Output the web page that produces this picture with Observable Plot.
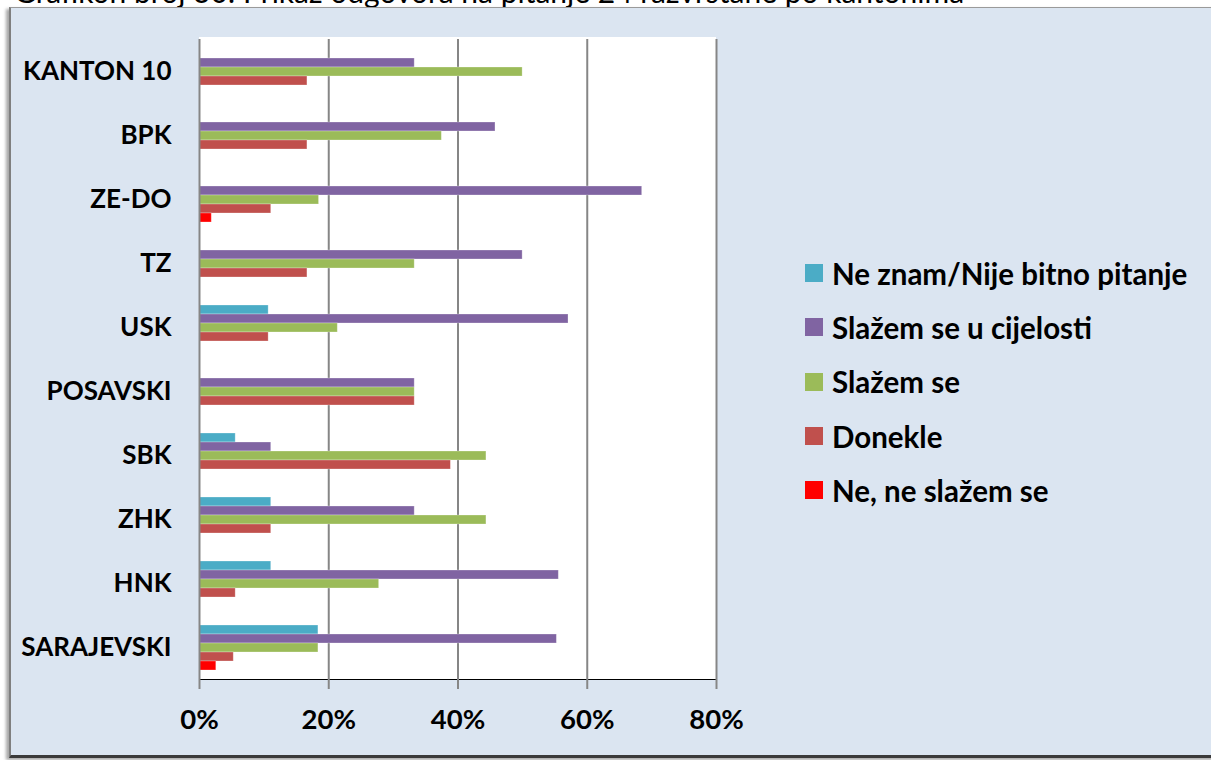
<!DOCTYPE html>
<html><head><meta charset="utf-8">
<script src="https://cdn.jsdelivr.net/npm/d3@7"></script>
<script src="https://cdn.jsdelivr.net/npm/@observablehq/plot@0.6"></script>
<style>
html,body{margin:0;padding:0;background:#fff;width:1211px;height:760px;overflow:hidden;font-family:Lato,"Open Sans",sans-serif;}
#title{position:absolute;left:14px;top:-24px;font-size:30px;line-height:30px;white-space:nowrap;color:#000;}
#box{position:absolute;left:9px;top:7px;width:1220px;height:747px;background:#DBE5F1;border-top:1px solid #9a9a9a;border-left:2px solid #7f7f7f;border-bottom:3px solid #3a3a3a;box-shadow:-3px 2px 3px rgba(0,0,0,0.35);}
#plotbg{position:absolute;left:199px;top:37px;width:517px;height:643px;background:#fff;}
#chart{position:absolute;left:0;top:0;}
#chart svg{overflow:visible;display:block;}
#chart [aria-label^="fy-axis"] text{font-size:26px;font-weight:bold;fill:#000;}
#chart [aria-label^="x-axis"] text{font-size:27.5px;font-weight:bold;fill:#000;}
#chart [aria-label^="x-axis"] line,#chart [aria-label^="x-axis"] path{stroke:#868686;stroke-width:2px;stroke-opacity:1;}
#legend{position:absolute;left:805px;top:246px;}
.row{display:flex;align-items:center;height:54.3px;font-size:29.5px;font-weight:bold;color:#000;white-space:nowrap;}
.sw{width:18px;height:18px;margin-right:9px;flex:none;}
</style>
</head><body>
<div id="title">Grafikon broj 30: Prikaz odgovora na pitanje 24 razvrstane po kantonima</div>
<div id="box"></div>
<div id="plotbg"></div>
<div id="chart"></div>
<div id="legend"></div>
<script>
// Categories (top to bottom)
const regions = ["KANTON 10","BPK","ZE-DO","TZ","USK","POSAVSKI","SBK","ZHK","HNK","SARAJEVSKI"];
// Series (top to bottom inside each group, and legend order)
const seriesNames = ["Ne znam/Nije bitno pitanje","Slažem se u cijelosti","Slažem se","Donekle","Ne, ne slažem se"];
const seriesColors = ["#4BACC6","#8064A2","#9BBB59","#C0504D","#FF0000"];
// Values in percent, per region
const neZnam     = [0,    0,    0,    0,    10.7, 0,    5.6,  11.1, 11.1, 18.4];
const uCijelosti = [33.3, 45.8, 68.5, 50.0, 57.1, 33.3, 11.1, 33.3, 55.6, 55.3];
const slazemSe   = [50.0, 37.5, 18.5, 33.3, 21.4, 33.3, 44.4, 44.4, 27.8, 18.4];
const donekle    = [16.7, 16.7, 11.1, 16.7, 10.7, 33.3, 38.9, 11.1, 5.6,  5.3];
const neSlazem   = [0,    0,    1.9,  0,    0,    0,    0,    0,    0,    2.6];
const xTicks = [0, 20, 40, 60, 80];

const seriesValues = [neZnam, uCijelosti, slazemSe, donekle, neSlazem];
const table = [];
regions.forEach((r, i) => {
  seriesNames.forEach((s, j) => {
    const v = seriesValues[j][i];
    if (v > 0) table.push({region: r, series: s, value: v});
  });
});

const H = 760, mTop = 37, mBottom = 80;
const facetH = (H - mTop - mBottom) / regions.length;

const chart = Plot.plot({
  width: 1211, height: H,
  marginLeft: 199, marginRight: 495, marginTop: mTop, marginBottom: mBottom,
  style: {background: "transparent", fontFamily: "Lato, 'Open Sans', sans-serif", overflow: "visible"},
  x: {domain: [0, 80], ticks: xTicks, tickFormat: d => d + "%", tickSize: 10, tickPadding: 20, line: true, label: null},
  y: {domain: seriesNames, axis: null, paddingInner: 0, paddingOuter: 0.715},
  fy: {domain: regions, padding: 0, label: null, tickSize: 0, tickPadding: 28, axis: "left"},
  color: {domain: seriesNames, range: seriesColors},
  facet: {data: table, y: "region"},
  marks: [
    Plot.ruleX(xTicks.slice(1), {stroke: "#868686", strokeWidth: 2}),
    Plot.barX(table, {x: "value", y: "series", fill: "series", stroke: "white", strokeOpacity: 0.35, strokeWidth: 0.8}),
    Plot.ruleX([0], {stroke: "#868686", strokeWidth: 2}),
    Plot.ruleY([null], {x1: -1.3, x2: 0, dy: -facetH / 2, stroke: "#868686", strokeWidth: 2}),
    Plot.ruleY([null], {x1: -1.3, x2: 0, dy: facetH / 2, stroke: "#868686", strokeWidth: 2})
  ]
});
document.getElementById("chart").appendChild(chart);

const legend = document.getElementById("legend");
seriesNames.forEach((s, j) => {
  const row = document.createElement("div");
  row.className = "row";
  const sw = document.createElement("span");
  sw.className = "sw";
  sw.style.background = seriesColors[j];
  const t = document.createElement("span");
  t.textContent = s;
  row.appendChild(sw); row.appendChild(t);
  legend.appendChild(row);
});
</script>
</body></html>
